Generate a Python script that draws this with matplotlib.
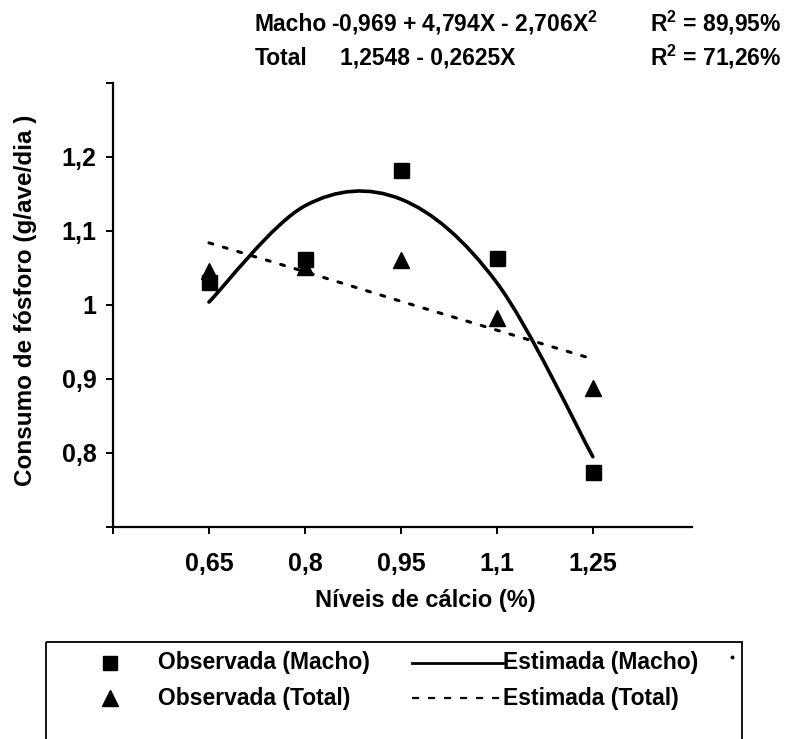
import matplotlib
matplotlib.use("Agg")
import matplotlib.pyplot as plt
from matplotlib.path import Path
from matplotlib.patches import PathPatch, Rectangle
import numpy as np

plt.rcParams['font.family'] = ['Liberation Sans', 'DejaVu Sans']
plt.rcParams['mathtext.fontset'] = 'custom'
plt.rcParams['mathtext.rm'] = 'Liberation Sans'
plt.rcParams['mathtext.bf'] = 'Liberation Sans:bold'
plt.rcParams['mathtext.it'] = 'Liberation Sans:italic'

# ---- data ----
calcio = [0.65, 0.80, 0.95, 1.10, 1.25]
obs_macho = [1.031, 1.062, 1.182, 1.063, 0.774]
obs_total = [1.046, 1.051, 1.061, 0.982, 0.888]
est_macho = [1.004, 1.134, 1.143, 1.030, 0.795]
est_total = [1.084, 1.045, 1.005, 0.966, 0.927]
x_ticks = [0.50, 0.65, 0.80, 0.95, 1.10, 1.25]
x_ticklabels = ["", "0,65", "0,8", "0,95", "1,1", "1,25"]
y_ticks = [0.7, 0.8, 0.9, 1.0, 1.1, 1.2, 1.3]
y_ticklabels = ["", "0,8", "0,9", "1", "1,1", "1,2", ""]

W, H = 785, 739
fig = plt.figure(figsize=(W / 100, H / 100), dpi=100)
L, R, T, B = 113, 692, 83, 527
ax = fig.add_axes([L / W, 1 - B / H, (R - L) / W, (B - T) / H])
ax.set_xlim(0.5, 1.405)
ax.set_ylim(0.7, 1.3)
for s in ['top', 'right']:
    ax.spines[s].set_visible(False)
for s in ['left', 'bottom']:
    ax.spines[s].set_linewidth(1.6)
ax.set_xticks(x_ticks)
ax.set_xticklabels(x_ticklabels, fontsize=18, fontweight='bold')
ax.set_yticks(y_ticks)
ax.set_yticklabels(y_ticklabels, fontsize=18, fontweight='bold')
ax.tick_params(axis='x', length=5, width=1.4, pad=13, direction='out')
ax.tick_params(axis='y', length=5, width=1.4, pad=7, direction='out')


def smooth_path(xs, ys):
    pts = np.column_stack([xs, ys])
    n = len(pts)
    verts = [pts[0]]
    codes = [Path.MOVETO]
    for i in range(n - 1):
        p0 = pts[max(i - 1, 0)]
        p1 = pts[i]
        p2 = pts[i + 1]
        p3 = pts[min(i + 2, n - 1)]
        c1 = p1 + (p2 - p0) / 6.0
        c2 = p2 - (p3 - p1) / 6.0
        verts += [c1, c2, p2]
        codes += [Path.CURVE4] * 3
    return Path(verts, codes)


# estimated curves
ax.add_patch(PathPatch(smooth_path(calcio, est_macho), facecolor='none',
                       edgecolor='black', lw=2.6, capstyle='round', zorder=3))
ax.plot(calcio, est_total, color='black', lw=2.2, dashes=(1.3, 3.6),
        dash_capstyle='round', zorder=3)

# observed points
ax.plot(calcio, obs_macho, 's', color='black', ms=10.8, zorder=4)
ax.plot(calcio, obs_total, '^', color='black', ms=12, zorder=4)

# axis titles
fig.text(26 / W, 1 - 300 / H, "Consumo de fósforo (g/ave/dia )", rotation=90,
         ha='center', va='center', fontsize=17.5, fontweight='bold')
fig.text(425 / W, 1 - 601 / H, "Níveis de cálcio (%)", ha='center', va='center',
         fontsize=17, fontweight='bold')

# overlay in pixel coords for equations and legend
ov = fig.add_axes([0, 0, 1, 1], zorder=5)
ov.set_xlim(0, W)
ov.set_ylim(H, 0)
ov.axis('off')
ov.patch.set_alpha(0)

eq_fs = 16.5
b1, b2 = 31, 65
ov.text(255, b1, "Macho", fontsize=eq_fs, fontweight='bold', va='baseline', ha='left')
ov.text(331, b1, r"-0,969 + 4,794X - 2,706X$^{\mathbf{2}}$", fontsize=eq_fs,
        fontweight='bold', va='baseline', ha='left')
ov.text(781, b1, r"R$^{\mathbf{2}}$ = 89,95%", fontsize=eq_fs, fontweight='bold',
        va='baseline', ha='right')
ov.text(255, b2, "Total", fontsize=eq_fs, fontweight='bold', va='baseline', ha='left')
ov.text(340, b2, "1,2548 - 0,2625X", fontsize=eq_fs, fontweight='bold',
        va='baseline', ha='left')
ov.text(781, b2, r"R$^{\mathbf{2}}$ = 71,26%", fontsize=eq_fs, fontweight='bold',
        va='baseline', ha='right')

# legend box (cut off at bottom)
ov.add_patch(Rectangle((46, 642), 742 - 46, 130, facecolor='none', edgecolor='black',
                       lw=1.3, clip_on=False))
leg_fs = 16.5
r1, r2 = 663, 698
ov.plot([110], [r1], 's', color='black', ms=10.5)
ov.plot([110], [r2], '^', color='black', ms=11)
ov.text(158, r1, "Observada (Macho)", fontsize=leg_fs, fontweight='bold', va='center')
ov.text(158, r2, "Observada (Total)", fontsize=leg_fs, fontweight='bold', va='center')
ov.plot([412, 503], [r1, r1], color='black', lw=2.0)
ov.plot([412, 503], [r2, r2], color='black', lw=1.6, dashes=(3.2, 4.0))
ov.text(503, r1, "Estimada (Macho)", fontsize=leg_fs, fontweight='bold', va='center')
ov.text(503, r2, "Estimada (Total)", fontsize=leg_fs, fontweight='bold', va='center')
ov.plot([732], [657], 'o', color='black', ms=1.8)

fig.savefig("out.png", dpi=100)
